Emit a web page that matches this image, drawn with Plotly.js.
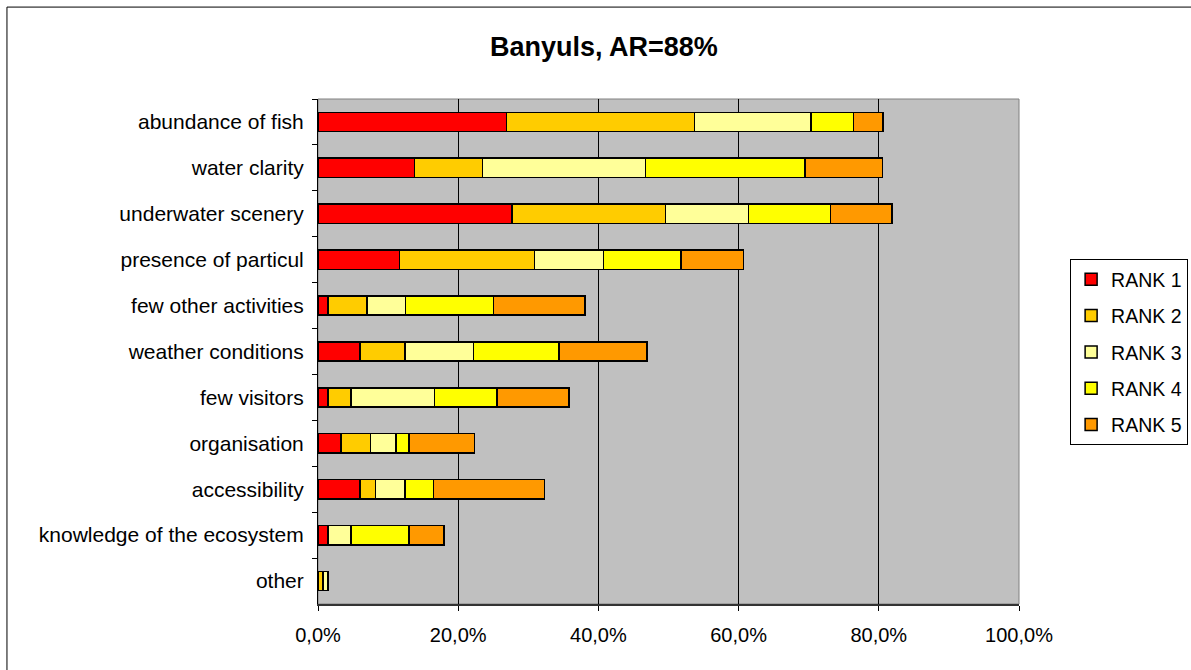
<!DOCTYPE html>
<html>
<head>
<meta charset="utf-8">
<script src="https://cdn.plot.ly/plotly-3.0.1.min.js"></script>
<style>html,body{margin:0;padding:0;background:#fff;}#chart{width:1191px;height:670px;}</style>
</head>
<body>
<div id="chart"></div>
<script>
const categories = ["abundance of fish","water clarity","underwater scenery","presence of particul","few other activities","weather conditions","few visitors","organisation","accessibility","knowledge of the ecosystem","other"];
const seriesNames = ["RANK 1","RANK 2","RANK 3","RANK 4","RANK 5"];
const rank1 = [26.9, 13.8, 27.7, 11.6, 1.4, 6.0, 1.4, 3.3, 6.0, 1.4, 0];
const rank2 = [26.8, 9.7, 21.9, 19.3, 5.6, 6.4, 3.3, 4.2, 2.2, 0, 0.7];
const rank3 = [16.6, 23.2, 11.8, 9.8, 5.5, 9.8, 11.9, 3.6, 4.2, 3.3, 0.7];
const rank4 = [6.1, 22.8, 11.7, 11.1, 12.5, 12.2, 8.9, 1.9, 4.1, 8.3, 0];
const rank5 = [4.2, 11.0, 8.8, 8.9, 13.1, 12.5, 10.3, 9.3, 15.8, 5.0, 0];
const xTickVals = [0, 20, 40, 60, 80, 100];
const xTickLabels = ["0,0%", "20,0%", "40,0%", "60,0%", "80,0%", "100,0%"];
const colors = ["#FF0000","#FFCC00","#FFFF99","#FFFF00","#FF9900"];
const allSeries = [rank1, rank2, rank3, rank4, rank5];

const FONT = "Liberation Sans, Arial, sans-serif";

const traces = allSeries.map((vals, i) => ({
  type: "bar",
  orientation: "h",
  name: seriesNames[i],
  legendgroup: "g" + i,
  x: vals,
  y: categories,
  marker: {color: colors[i], line: {color: "#000", width: 1.5}},
  hoverinfo: "x+y+name"
}));

const layout = {
  width: 1191,
  height: 670,
  autosize: false,
  margin: {l: 318, r: 172, t: 99, b: 66, pad: 0},
  paper_bgcolor: "#fff",
  plot_bgcolor: "#C0C0C0",
  separators: ",.",
  barmode: "stack",
  bargap: 0.58,
  font: {family: FONT, color: "#000", size: 20},
  title: {
    text: "<b>Banyuls, AR=88%</b>",
    font: {family: FONT, size: 27, color: "#000"},
    x: 0.507, xanchor: "center", xref: "container",
    y: 0.931, yanchor: "middle", yref: "container"
  },
  xaxis: {
    range: [0, 100],
    tickmode: "array",
    tickvals: xTickVals,
    ticktext: xTickLabels,
    showgrid: true,
    gridcolor: "#000",
    gridwidth: 1,
    zeroline: false,
    showline: true,
    linecolor: "#333",
    linewidth: 2,
    ticks: "outside",
    ticklen: 5,
    tickcolor: "#000",
    ticklabelstandoff: 7,
    tickfont: {family: FONT, size: 20, color: "#000"},
    fixedrange: true
  },
  yaxis: {
    type: "category",
    categoryorder: "array",
    categoryarray: categories,
    autorange: "reversed",
    showgrid: false,
    zeroline: false,
    showline: true,
    linecolor: "#000",
    linewidth: 1,
    ticks: "outside",
    tickson: "boundaries",
    ticklen: 5,
    tickcolor: "#000",
    ticklabelstandoff: 9,
    tickfont: {family: FONT, size: 21, color: "#000"},
    fixedrange: true
  },
  legend: {
    xref: "container", yref: "container",
    x: 0.8985, xanchor: "left",
    y: 0.6134, yanchor: "top",
    bgcolor: "#fff",
    bordercolor: "#000",
    borderwidth: 1,
    traceorder: "grouped",
    tracegroupgap: 8,
    font: {family: FONT, size: 19.5, color: "#000"}
  },
  shapes: [
    {type: "rect", xref: "paper", yref: "paper", x0: 0, x1: 1, y0: 0, y1: 1,
     line: {color: "#808080", width: 1}, layer: "below"},
    {type: "rect", xref: "paper", yref: "paper", x0: -0.4437, x1: 1.4, y0: -0.3, y1: 1.182,
     line: {color: "#000", width: 1}, fillcolor: "rgba(0,0,0,0)", layer: "below"}
  ]
};

Plotly.newPlot("chart", traces, layout, {displayModeBar: false, staticPlot: true});
</script>
</body>
</html>
